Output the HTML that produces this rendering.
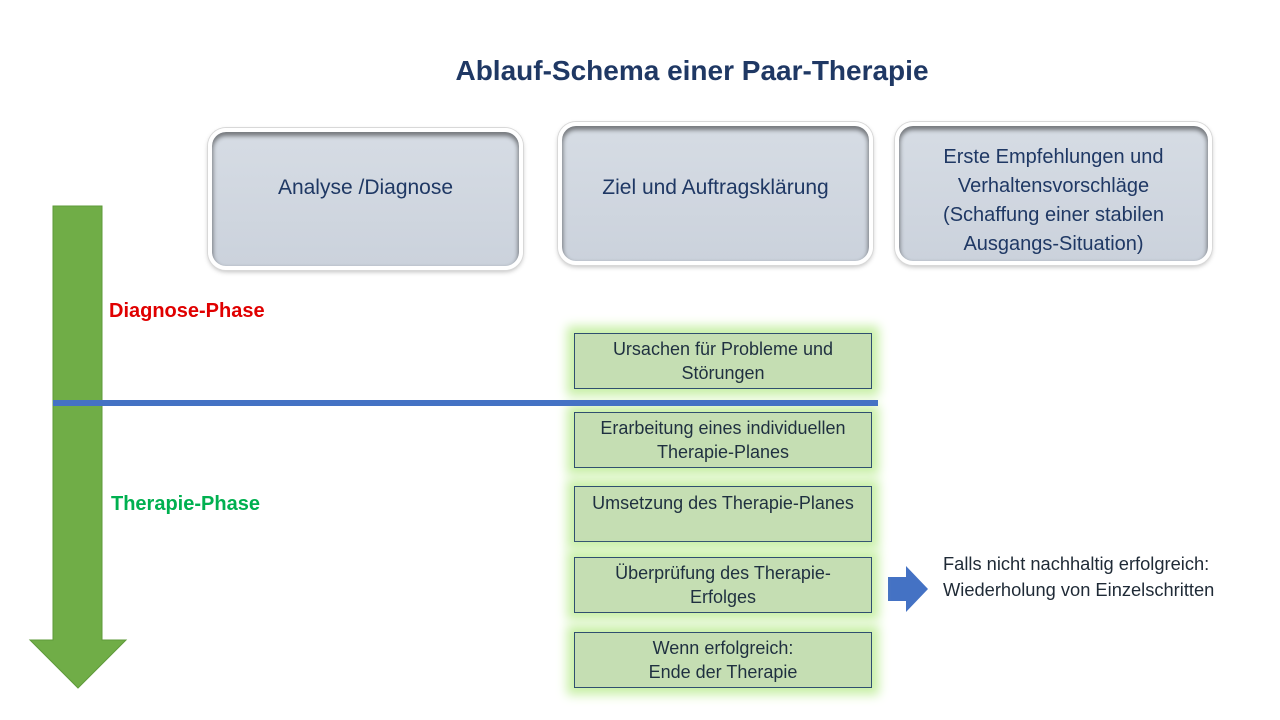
<!DOCTYPE html>
<html><head><meta charset="utf-8"><style>
body{margin:0;width:1280px;height:720px;background:#fff;position:relative;overflow:hidden;font-family:"Liberation Sans",sans-serif}
.a{position:absolute}
.top{position:absolute;background:linear-gradient(#d6dce4,#cbd2dc);border:4px solid #fff;border-radius:18px;box-shadow:0 0 0 1px #d8d8d8,0 3px 4px 1px rgba(0,0,0,.45) inset,0 2px 5px rgba(0,0,0,.25);display:flex;align-items:center;justify-content:center;text-align:center;color:#1f3864;font-size:21px;line-height:29px;box-sizing:border-box}
.g{position:absolute;left:574px;width:298px;height:56px;background:#c5deb3;border:1px solid #2f4f6f;box-sizing:border-box;box-shadow:0 0 10px 7px #c9f0a8;text-align:center;color:#1f3040;font-size:18px;line-height:24px;padding-top:3px;white-space:nowrap}
</style></head><body>
<div class="a" style="left:0;width:1384px;top:55px;text-align:center;font-weight:bold;font-size:28px;color:#1f3864">Ablauf-Schema einer Paar-Therapie</div>
<div class="top" style="left:208px;top:128px;width:315px;height:142px;padding-bottom:24px">Analyse /Diagnose</div>
<div class="top" style="left:558px;top:122px;width:315px;height:143px;padding-bottom:12px">Ziel und Auftragsklärung</div>
<div class="top" style="left:895px;top:122px;width:317px;height:143px;padding-top:14px;font-size:20px">Erste Empfehlungen und<br>Verhaltensvorschläge<br>(Schaffung einer stabilen<br>Ausgangs-Situation)</div>
<svg class="a" style="left:0;top:0" width="1280" height="720">
<polygon points="53,206 102,206 102,640 126,640 78,688 30,640 53,640" fill="#70ad47" stroke="#5e9a3a" stroke-width="1"/>
<polygon points="888,577 906,577 906,566 928,589 906,612 906,601 888,601" fill="#4472c4"/>
</svg>
<div class="a" style="left:109px;top:300px;color:#e00000;font-weight:bold;font-size:20px">Diagnose-Phase</div>
<div class="a" style="left:111px;top:493px;color:#00b050;font-weight:bold;font-size:20px">Therapie-Phase</div>
<div class="g" style="top:333px">Ursachen für Probleme und<br>Störungen</div>
<div class="g" style="top:412px">Erarbeitung eines individuellen<br>Therapie-Planes</div>
<div class="g" style="top:486px;padding-top:4px">Umsetzung des Therapie-Planes</div>
<div class="g" style="top:557px">Überprüfung des Therapie-<br>Erfolges</div>
<div class="g" style="top:632px">Wenn erfolgreich:<br>Ende der Therapie</div>
<div class="a" style="left:53px;top:400px;width:825px;height:6px;background:#4472c4"></div>
<div class="a" style="left:943px;top:551px;font-size:18.3px;line-height:26px;color:#1f2a36">Falls nicht nachhaltig erfolgreich:<br>Wiederholung von Einzelschritten</div>
</body></html>
